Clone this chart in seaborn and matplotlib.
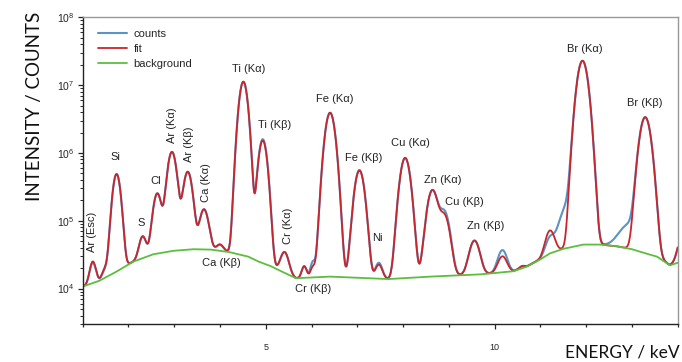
import matplotlib
matplotlib.use("Agg")
import matplotlib.pyplot as plt
import matplotlib.ticker as mticker
import numpy as np
import pandas as pd
import seaborn as sns

# background continuum (green curve): keV -> counts
bg_kev = [1.0, 1.36, 1.74, 2.11, 2.54, 2.98, 3.42, 3.8, 4.2, 4.62, 4.84, 5.1, 5.35, 5.66,
          6.4, 7.68, 8.6, 9.7, 10.41, 10.7, 11.0, 11.21, 11.5, 11.94, 12.3, 12.67, 13.0,
          13.3, 13.55, 13.83, 14.0]
bg_counts = [1.07e4, 1.3e4, 1.78e4, 2.5e4, 3.2e4, 3.6e4, 3.8e4, 3.75e4, 3.45e4, 2.95e4, 2.5e4,
             2.15e4, 1.78e4, 1.42e4, 1.5e4, 1.38e4, 1.5e4, 1.62e4, 1.8e4, 2.1e4, 2.7e4, 3.3e4,
             3.85e4, 4.45e4, 4.45e4, 4.2e4, 3.8e4, 3.3e4, 2.95e4, 2.2e4, 2.4e4]

# fluorescence lines: centre (keV), height above background for fit and counts, width (keV)
line_kev = [1.22, 1.49, 1.74, 2.31, 2.63, 2.95, 3.295, 3.65, 4.0, 4.51, 4.934, 5.41, 5.84,
            6.03, 6.405, 7.046, 7.47, 8.045, 8.64, 8.9, 9.56, 10.17, 10.6, 11.21, 11.6,
            11.92, 12.95, 13.29, 14.15]
fit_height = [1.3e4, 5e3, 4.7e5, 3.1e4, 2.2e5, 1.0e6, 4.9e5, 1.1e5, 9e3, 1.12e7, 1.5e6,
              1.75e4, 7e3, 6e3, 3.9e6, 5.35e5, 8.5e3, 8.3e5, 2.66e5, 1.04e5, 3.5e4, 1.25e4,
              1.5e3, 3.9e4, 0, 2.28e7, 0, 3.33e6, 5e4]
count_height = [1.2e4, 4e3, 4.7e5, 3.0e4, 2.2e5, 1.0e6, 4.9e5, 1.1e5, 8e3, 1.12e7, 1.57e6,
                1.75e4, 7e3, 1e4, 3.9e6, 5.45e5, 1.0e4, 8.3e5, 2.66e5, 1.2e5, 3.5e4, 1.95e4,
                1.5e3, 2.2e4, 1.3e5, 2.28e7, 5e4, 3.33e6, 5e4]
line_sigma = [0.06, 0.06, 0.075, 0.07, 0.08, 0.085, 0.085, 0.085, 0.07, 0.08, 0.08, 0.08,
              0.05, 0.05, 0.092, 0.092, 0.07, 0.095, 0.1, 0.1, 0.1, 0.09, 0.06, 0.09, 0.15,
              0.1, 0.2, 0.104, 0.1]

# peak labels
label_text = ["Ar (Esc)", "Si", "S", "Cl", "Ar (Kα)", "Ar (Kβ)", "Ca (Kα)", "Ca (Kβ)",
              "Ti (Kα)", "Ti (Kβ)", "Cr (Kα)", "Cr (Kβ)", "Fe (Kα)", "Fe (Kβ)", "Ni",
              "Cu (Kα)", "Zn (Kα)", "Cu (Kβ)", "Zn (Kβ)", "Br (Kα)", "Br (Kβ)"]
label_kev = [1.20, 1.72, 2.27, 2.60, 2.96, 3.32, 3.69, 4.04, 4.62, 5.20, 5.48, 6.04, 6.51,
             7.15, 7.44, 8.17, 8.86, 9.34, 9.81, 11.98, 13.29]
label_counts = [6.9e4, 8.6e5, 9.2e4, 3.8e5, 2.6e6, 1.35e6, 3.6e5, 2.4e4, 1.75e7, 2.6e6,
                8.5e4, 1.0e4, 6.3e6, 8.5e5, 5.5e4, 1.42e6, 4.0e5, 1.87e5, 8.3e4, 3.45e7, 5.4e6]
label_rot = [90, 0, 0, 0, 90, 90, 90, 0, 0, 0, 90, 0, 0, 0, 0, 0, 0, 0, 0, 0, 0]

sns.set_style("ticks")
plt.rcParams['font.family'] = ['Liberation Sans', 'DejaVu Sans']
plt.rcParams['mathtext.default'] = 'regular'

# spectrum on a fine energy grid: background plus gaussian lines
energy = np.linspace(1, 14, 1301)
base = np.interp(energy, bg_kev, bg_counts)
fit = base.copy()
counts = base.copy()
for c, hf, hc, s in zip(line_kev, fit_height, count_height, line_sigma):
    g = np.exp(-(energy - c) ** 2 / (2 * s ** 2))
    fit += hf * g
    counts += hc * g

spec = pd.DataFrame({"energy": energy, "counts": counts, "fit": fit})
bg = pd.DataFrame({"energy": bg_kev, "background": bg_counts})

fig = plt.figure(figsize=(6.82, 3.62), dpi=100)
ax = fig.add_axes([82.7 / 682, 1 - 324 / 362, 595 / 682, 306.7 / 362])

sns.lineplot(data=spec, x="energy", y="counts", ax=ax, color="#5b93c4", lw=1.5, label="counts")
sns.lineplot(data=spec, x="energy", y="fit", ax=ax, color="#c9252c", lw=1.3, label="fit")
sns.lineplot(data=bg, x="energy", y="background", ax=ax, color="#5cbd3f", lw=1.3,
             label="background")

ax.set_yscale("log")
ax.set_xlim(1, 14)
ax.set_ylim(3e3, 1e8)
ax.xaxis.set_major_locator(mticker.FixedLocator([5, 10]))
ax.xaxis.set_minor_locator(mticker.MultipleLocator(1))
ax.yaxis.set_major_locator(mticker.LogLocator(base=10))
ax.yaxis.set_minor_locator(mticker.LogLocator(base=10, subs=np.arange(2, 10)))
ax.tick_params(axis="x", which="major", length=3.6, width=0.9, labelsize=6.5, pad=10)
ax.tick_params(axis="x", which="minor", length=2, width=0.9)
ax.tick_params(axis="y", which="major", length=3.8, width=0.9, labelsize=7.5, pad=2)
ax.tick_params(axis="y", which="minor", length=2.4, width=0.7)
ax.set_xlabel("")
ax.set_ylabel("")
for side in ["top", "right"]:
    ax.spines[side].set_color("#999999")
for side in ["left", "bottom"]:
    ax.spines[side].set_color("#222222")
for side in ax.spines:
    ax.spines[side].set_linewidth(1.0)

for t, e, v, r in zip(label_text, label_kev, label_counts, label_rot):
    ax.text(e, v, t, rotation=r, ha="center", va="center", fontsize=8, color="#222222")

ax.legend(loc="upper left", bbox_to_anchor=(0.026, 0.962), frameon=False, fontsize=8,
          handlelength=2.6, handletextpad=0.6, labelspacing=0.45, borderpad=0,
          borderaxespad=0)

fig.text(35 / 682, 1 - 106 / 362, "INTENSITY / COUNTS", rotation=90, ha="center",
         va="center", fontsize=13.5, family=["Lato", "DejaVu Sans"], color="#111111")
fig.text(680 / 682, 1 - 353 / 362, "ENERGY / keV", ha="right", va="center",
         fontsize=12.5, family=["Lato", "DejaVu Sans"], color="#111111")

fig.savefig("out.png", dpi=100)
